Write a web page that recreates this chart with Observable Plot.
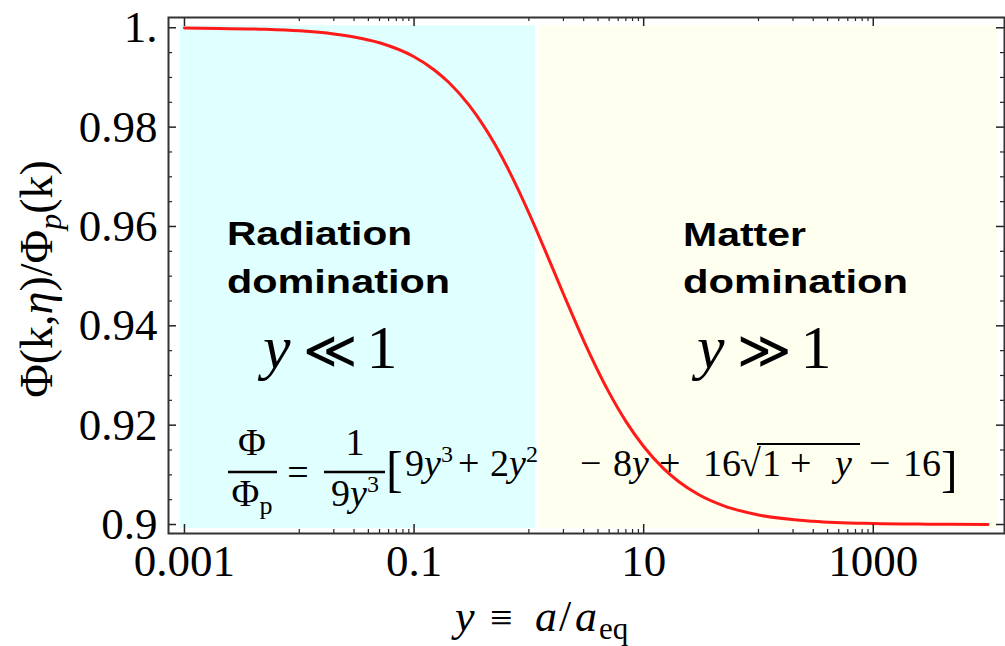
<!DOCTYPE html>
<html><head><meta charset="utf-8">
<script src="https://cdn.jsdelivr.net/npm/d3@7"></script>
<script src="https://cdn.jsdelivr.net/npm/@observablehq/plot@0.6"></script>
<style>
body{margin:0;background:#fff}
#chart{position:relative;width:1005px;height:646px}
</style>
</head><body><div id="chart"></div>
<script>
// scale factor y = a / a_eq (log axis) and the potential ratio
const yRatio   = [0.001, 0.002, 0.005, 0.01, 0.02, 0.03, 0.05, 0.1, 0.15, 0.2, 0.3, 0.4, 0.5, 0.7, 1, 1.5, 2, 3, 5, 7, 10, 15, 20, 30, 50, 100, 300, 1000, 3000, 10000];
const phiRatio = [0.99994, 0.99988, 0.99969, 0.99938, 0.99877, 0.99816, 0.99698, 0.99416, 0.99151, 0.98903, 0.98447, 0.98040, 0.97674, 0.97039, 0.96274, 0.95328, 0.94641, 0.93704, 0.92655, 0.92077, 0.91571, 0.91120, 0.90872, 0.90605, 0.90376, 0.90193, 0.90066, 0.90020, 0.90007, 0.90002];

const xTicks = [0.001, 0.1, 10, 1000];
const xTickLabels = ["0.001", "0.1", "10", "1000"];
const xMinorTicks = [0.01,0.02,0.03,0.04,0.05,0.06,0.07,0.08,0.09, 1,2,3,4,5,6,7,8,9, 100,200,300,400,500,600,700,800,900];
const yTicks = [0.9, 0.92, 0.94, 0.96, 0.98, 1.0];
const yTickLabels = ["0.9", "0.92", "0.94", "0.96", "0.98", "1."];
const yMinorTicks = [0.905,0.91,0.915,0.925,0.93,0.935,0.945,0.95,0.955,0.965,0.97,0.975,0.985,0.99,0.995];

// shaded epochs
const regionNames = ["Radiation domination", "Matter domination"];
const regionStart = [0.00092, 1.24];
const regionEnd   = [1.14, 12300];
const regionLow   = [0.8992, 0.8992];
const regionHigh  = [1.0004, 1.0004];
const regionFill  = ["#e0ffff", "#fffff0"];

const W = 1005, H = 646, mL = 168, mR = 1, mT = 17, mB = 113;
const pw = W - mL - mR, ph = H - mT - mB;
const serif = "'Liberation Serif', 'Times New Roman', serif";
const sans = "'Liberation Sans', Arial, sans-serif";

const curve = yRatio.map((y, i) => ({y, v: phiRatio[i]}));
const regions = regionNames.map((n, i) => ({n, x1: regionStart[i], x2: regionEnd[i], y1: regionLow[i], y2: regionHigh[i], fill: regionFill[i]}));
const tk = "#222";

const chart = Plot.plot({
  width: W, height: H,
  marginLeft: mL, marginRight: mR, marginTop: mT, marginBottom: mB,
  style: {fontFamily: serif, background: "transparent", color: "#000"},
  x: {type: "log", domain: [7.26e-4, 13900]},
  y: {domain: [0.89819, 1.00207]},
  marks: [
    Plot.rect(regions, {x1: "x1", x2: "x2", y1: "y1", y2: "y2", fill: "fill"}),
    Plot.line(curve, {x: "y", y: "v", stroke: "#ff1a1a", strokeWidth: 3, curve: "monotone-x"}),
    Plot.ruleX(xTicks, {stroke: tk, strokeWidth: 1.5, insetTop: ph - 9}),
    Plot.ruleX(xTicks, {stroke: tk, strokeWidth: 1.5, insetBottom: ph - 9}),
    Plot.ruleX(xMinorTicks, {stroke: tk, strokeWidth: 1.2, insetTop: ph - 4}),
    Plot.ruleX(xMinorTicks, {stroke: tk, strokeWidth: 1.2, insetBottom: ph - 4}),
    Plot.ruleY(yTicks, {stroke: tk, strokeWidth: 1.5, insetRight: pw - 8}),
    Plot.ruleY(yTicks, {stroke: tk, strokeWidth: 1.5, insetLeft: pw - 8}),
    Plot.ruleY(yMinorTicks, {stroke: tk, strokeWidth: 1.2, insetRight: pw - 4}),
    Plot.ruleY(yMinorTicks, {stroke: tk, strokeWidth: 1.2, insetLeft: pw - 4}),
    Plot.frame({stroke: "#333", strokeWidth: 2}),
    Plot.axisX({ticks: xTicks, tickFormat: d => xTickLabels[xTicks.indexOf(d)], tickSize: 0, tickPadding: 11, fontSize: 45, fontFamily: serif, label: null}),
    Plot.axisY({ticks: yTicks, tickFormat: d => yTickLabels[yTicks.indexOf(d)], tickSize: 0, tickPadding: 11, fontSize: 45, fontFamily: serif, label: null})
  ]
});
document.getElementById("chart").appendChild(chart);

const svg = d3.select(chart);
const ann = svg.append("g").attr("fill", "#000").attr("text-anchor", "start");

// y-axis label
const yl = ann.append("text").attr("transform", "translate(52,279) rotate(-90)")
  .attr("text-anchor", "middle").style("font-family", serif).style("font-size", "46px");
yl.append("tspan").text("Φ(k,");
yl.append("tspan").style("font-style", "italic").text("η");
yl.append("tspan").text(")/Φ");
yl.append("tspan").style("font-style", "italic").style("font-size", "32px").attr("dy", 9).text("p");
yl.append("tspan").attr("dy", -9).text("(k)");

// x-axis label (positioned glyph by glyph)
const xl = ann.append("text").style("font-family", serif).style("font-size", "44px");
function xt(x, y, s, opt = {}) {
  const t = xl.append("tspan").attr("x", x).attr("y", y).text(s);
  if (opt.it) t.style("font-style", "italic");
  if (opt.size) t.style("font-size", opt.size + "px");
}
xt(455, 631, "y", {it: true});
xt(490, 631, "≡", {size: 40});
xt(535, 631, "a", {it: true});
xt(559, 631, "/");
xt(575, 631, "a", {it: true});
xt(599, 639, "eq", {size: 31});

// epoch labels
function line(x, y, s, w) {
  ann.append("text").attr("x", x).attr("y", y).style("font-family", sans).style("font-weight", "bold")
    .style("font-size", "34px").attr("textLength", w).attr("lengthAdjust", "spacingAndGlyphs").text(s);
}
line(227, 245, "Radiation", 185);
line(227, 293, "domination", 223);
line(683, 246, "Matter", 123);
line(683, 293, "domination", 225);

function ineq(x, sym) {
  const t = ann.append("text").attr("x", x).attr("y", 368).style("font-family", serif).style("font-size", "62px");
  t.append("tspan").style("font-style", "italic").text("y");
  t.append("tspan").attr("dx", 12).style("font-size", "52px").text(sym);
  t.append("tspan").attr("dx", 10).text("1");
}
ineq(263, "≪");
ineq(697, "≫");

// formula
const fs = 38, base = 476;
const f = ann.append("g").style("font-family", serif).style("font-size", fs + "px");
f.append("text").attr("x", 252).attr("y", 455).attr("text-anchor", "middle").text("Φ");
f.append("line").attr("x1", 228).attr("x2", 277).attr("y1", 472).attr("y2", 472).attr("stroke", "#000").attr("stroke-width", 2.4);
const d1 = f.append("text").attr("x", 252).attr("y", 506).attr("text-anchor", "middle");
d1.append("tspan").text("Φ"); d1.append("tspan").style("font-size", "26px").attr("dy", 8).text("p");
f.append("text").attr("x", 298).attr("y", 485).attr("text-anchor", "middle").text("=");
f.append("text").attr("x", 355).attr("y", 455).attr("text-anchor", "middle").text("1");
f.append("line").attr("x1", 324).attr("x2", 385).attr("y1", 472).attr("y2", 472).attr("stroke", "#000").attr("stroke-width", 2.4);
const d2 = f.append("text").attr("x", 355).attr("y", 506).attr("text-anchor", "middle");
d2.append("tspan").text("9"); d2.append("tspan").style("font-style", "italic").text("y");
d2.append("tspan").style("font-size", "24px").attr("dy", -14).text("3");
f.append("text").attr("x", 386).attr("y", 486).style("font-size", "50px").text("[");
const m = f.append("text");
function tok(x, s, it) {
  const t = m.append("tspan").attr("y", base).text(s);
  if (x != null) t.attr("x", x);
  if (it) t.style("font-style", "italic");
}
function sup(s) { m.append("tspan").attr("y", base - 14).style("font-size", "24px").text(s); }
tok(405, "9"); tok(null, "y", true); sup("3");
tok(458, "+");
tok(490, "2"); tok(null, "y", true); sup("2");
tok(580, "−");
tok(613, "8"); tok(null, "y", true);
tok(659, "+");
tok(703, "16");
tok(740, "√");
tok(762, "1");
tok(790, "+");
tok(835, "y", true);
tok(869, "−");
tok(903, "16");
f.append("text").attr("x", 941).attr("y", 486).style("font-size", "50px").text("]");
f.append("line").attr("x1", 757).attr("x2", 860).attr("y1", 444).attr("y2", 444).attr("stroke", "#000").attr("stroke-width", 1.8);
</script>
</body></html>
